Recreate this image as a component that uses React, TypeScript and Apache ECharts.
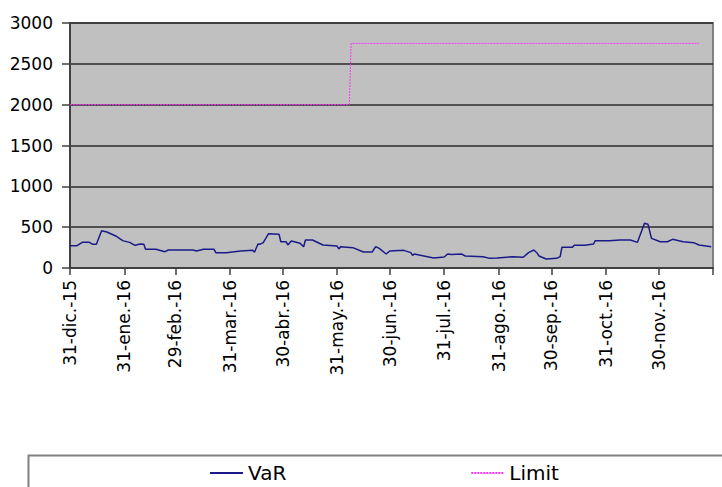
import React, { useEffect, useRef } from "react";
import * as echarts from "echarts";

// ---- Data ----
const MONTHS = ["ene", "feb", "mar", "abr", "may", "jun", "jul", "ago", "sep", "oct", "nov", "dic"];
const START_DATE = [2015, 11, 31]; // 31-dic.-15
const DAY_COUNT = 367; // 31-dic.-15 .. 31-dic.-16

const TICK_LABELS = [
  "31-dic.-15", "31-ene.-16", "29-feb.-16", "31-mar.-16", "30-abr.-16", "31-may.-16",
  "30-jun.-16", "31-jul.-16", "31-ago.-16", "30-sep.-16", "31-oct.-16", "30-nov.-16",
];

const Y_TICKS = [0, 500, 1000, 1500, 2000, 2500, 3000];

// VaR: day offset from 31-dic.-15 and value
const VAR_DAYS = [
  0, 4, 7, 11, 13, 15, 18, 21, 26, 30, 34, 37, 40, 42, 43, 49, 54, 56, 70, 72,
  76, 82, 83, 89, 97, 104, 105, 107, 108, 110, 113, 119, 120, 123, 124, 126, 131, 133, 134, 138,
  144, 152, 153, 154, 161, 167, 172, 174, 176, 180, 182, 190, 194, 195, 196, 207, 213, 215, 217, 223,
  225, 235, 239, 243, 252, 258, 261, 264, 266, 267, 271, 277, 279, 280, 286, 287, 293, 298, 299, 307,
  313, 319, 323, 327, 329, 331, 336, 340, 343, 349, 355, 358, 365,
];
const VAR_VALUES = [
  273, 273, 314, 314, 290, 290, 457, 441, 392, 335, 314, 278, 294, 290, 229, 229, 200, 220, 220, 208,
  229, 229, 188, 188, 208, 216, 192, 294, 290, 310, 420, 412, 322, 322, 282, 331, 302, 261, 343, 343,
  282, 269, 233, 261, 249, 196, 196, 261, 240, 171, 208, 216, 188, 155, 171, 122, 135, 171, 165, 171,
  147, 139, 118, 122, 139, 131, 188, 220, 180, 147, 110, 118, 139, 253, 253, 278, 280, 294, 335, 335,
  343, 343, 314, 547, 535, 363, 322, 322, 351, 322, 310, 282, 261,
];

// Limit: day offset and value
const LIMIT_DAYS = [0, 159, 160, 358];
const LIMIT_VALUES = [2000, 2000, 2750, 2750];

const FONT = '"DejaVu Sans", Verdana, sans-serif';

function buildCategories(): { labels: string[]; monthEnds: Set<number> } {
  const labels: string[] = [];
  const monthEnds = new Set<number>();
  for (let i = 0; i < DAY_COUNT; i++) {
    const d = new Date(Date.UTC(START_DATE[0], START_DATE[1], START_DATE[2] + i));
    const next = new Date(Date.UTC(START_DATE[0], START_DATE[1], START_DATE[2] + i + 1));
    const yy = String(d.getUTCFullYear()).slice(2);
    labels.push(`${d.getUTCDate()}-${MONTHS[d.getUTCMonth()]}.-${yy}`);
    if (next.getUTCDate() === 1) monthEnds.add(i);
  }
  return { labels, monthEnds };
}

export default function App() {
  const ref = useRef<HTMLDivElement>(null);

  useEffect(() => {
    if (!ref.current) return;
    const chart = echarts.init(ref.current, undefined, { renderer: "svg" });
    const { labels, monthEnds } = buildCategories();

    const varData = VAR_DAYS.map((d, i) => [d, VAR_VALUES[i]]);
    const limitData = LIMIT_DAYS.map((d, i) => [d, LIMIT_VALUES[i]]);

    chart.setOption({
      animation: false,
      backgroundColor: "#ffffff",
      textStyle: { fontFamily: FONT },
      grid: {
        left: 70,
        top: 23,
        right: 9,
        bottom: 219,
        show: true,
        backgroundColor: "#C0C0C0",
        borderColor: "#808080",
        borderWidth: 2,
        containLabel: false,
        outerBoundsMode: "none",
      },
      xAxis: {
        type: "category",
        data: labels,
        boundaryGap: false,
        axisLine: { show: true, lineStyle: { color: "#404040", width: 2 } },
        axisTick: {
          show: true,
          length: 7,
          interval: (idx: number) => monthEnds.has(idx),
          lineStyle: { color: "#404040", width: 1.5 },
        },
        axisLabel: {
          rotate: 90,
          margin: 12,
          fontSize: 17,
          color: "#000",
          fontFamily: FONT,
          interval: (_idx: number, value: string) => TICK_LABELS.includes(value),
        },
        splitLine: { show: false },
      },
      yAxis: {
        type: "value",
        min: Y_TICKS[0],
        max: Y_TICKS[Y_TICKS.length - 1],
        interval: 500,
        axisLine: { show: true, lineStyle: { color: "#404040", width: 2 } },
        axisTick: { show: true, length: 8, lineStyle: { color: "#404040", width: 1.5 } },
        axisLabel: {
          fontSize: 17,
          color: "#000",
          margin: 17,
          fontFamily: FONT,
          formatter: (v: number) => String(v),
        },
        splitLine: { show: true, lineStyle: { color: "#2b2b2b", width: 1.5 } },
      },
      legend: {
        left: 204,
        top: 458,
        itemWidth: 33,
        itemHeight: 20,
        itemGap: 184,
        itemStyle: { opacity: 0 },
        textStyle: { fontSize: 20, color: "#000", fontFamily: FONT },
        data: ["VaR", "Limit"],
      },
      graphic: [
        {
          type: "rect",
          left: 26,
          top: 453,
          shape: { x: 0, y: 0, width: 760, height: 80 },
          style: { fill: "none", stroke: "#808080", lineWidth: 2 },
          silent: true,
          z: -1,
        },
      ],
      series: [
        {
          name: "VaR",
          type: "line",
          data: varData,
          symbol: "none",
          lineStyle: { color: "#1a1a8a", width: 1.5 },
          itemStyle: { color: "#1a1a8a" },
        },
        {
          name: "Limit",
          type: "line",
          data: limitData,
          symbol: "none",
          lineStyle: { color: "#FF33FF", width: 1, type: [2, 1] },
          itemStyle: { color: "#FF33FF" },
        },
      ],
    });

    return () => chart.dispose();
  }, []);

  return (
    <div
      ref={ref}
      style={{ position: "fixed", left: 0, top: 0, width: 722, height: 487 }}
    />
  );
}
